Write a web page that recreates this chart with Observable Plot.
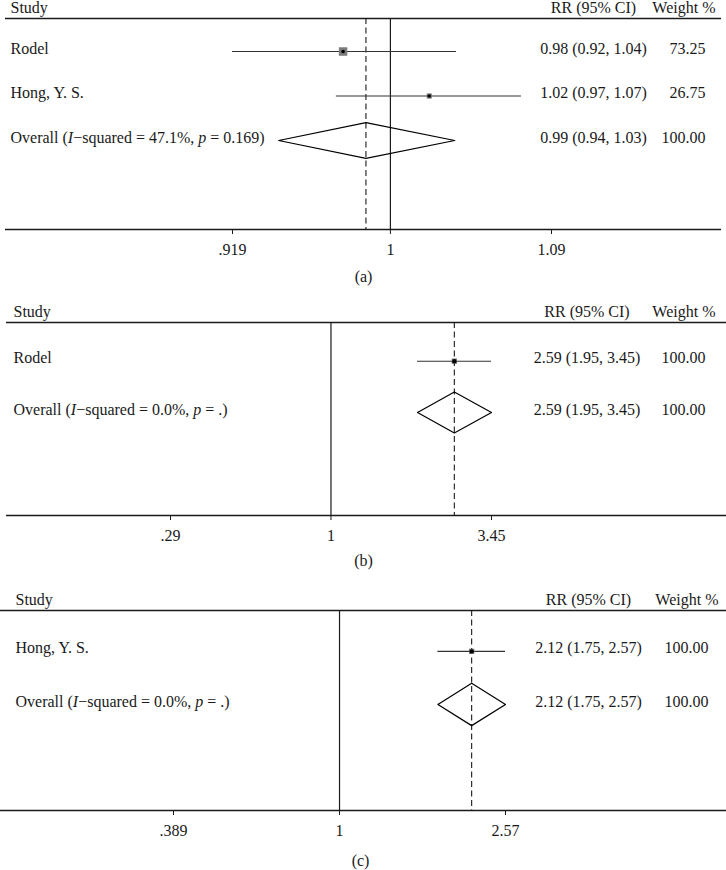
<!DOCTYPE html>
<html>
<head>
<meta charset="utf-8">
<script src="https://cdn.jsdelivr.net/npm/d3@7"></script>
<script src="https://cdn.jsdelivr.net/npm/@observablehq/plot@0.6"></script>
<style>
  html, body { margin: 0; padding: 0; background: #fff; }
  #chart svg { display: block; }
</style>
</head>
<body>
<div id="chart"></div>
<script>
// ---------- Panel (a) ----------
const aStudies = ["Rodel", "Hong, Y. S."];
const aEst = [0.975, 1.021];
const aLo = [0.919, 0.9715];
const aHi = [1.036, 1.0726];
const aRR = ["0.98 (0.92, 1.04)", "1.02 (0.97, 1.07)"];
const aWeight = [73.25, 26.75];
const aOverallLabel = "Overall (I−squared = 47.1%, p = 0.169)";
const aOverall = [0.987, 0.942, 1.035]; // est, lo, hi
const aOverallRR = "0.99 (0.94, 1.03)";
const aOverallWeight = 100;
const aTicks = [0.919, 1, 1.09];
const aTickLabels = [".919", "1", "1.09"];

// ---------- Panel (b) ----------
const bStudies = ["Rodel"];
const bEst = [2.59];
const bLo = [1.95];
const bHi = [3.45];
const bRR = ["2.59 (1.95, 3.45)"];
const bWeight = [100];
const bOverallLabel = "Overall (I−squared = 0.0%, p = .)";
const bOverall = [2.59, 1.95, 3.45];
const bOverallRR = "2.59 (1.95, 3.45)";
const bOverallWeight = 100;
const bTicks = [0.29, 1, 3.45];
const bTickLabels = [".29", "1", "3.45"];

// ---------- Panel (c) ----------
const cStudies = ["Hong, Y. S."];
const cEst = [2.12];
const cLo = [1.75];
const cHi = [2.57];
const cRR = ["2.12 (1.75, 2.57)"];
const cWeight = [100];
const cOverallLabel = "Overall (I−squared = 0.0%, p = .)";
const cOverall = [2.12, 1.75, 2.57];
const cOverallRR = "2.12 (1.75, 2.57)";
const cOverallWeight = 100;
const cTicks = [0.389, 1, 2.57];
const cTickLabels = [".389", "1", "2.57"];

const panels = [
  {caption: "(a)", studies: aStudies, est: aEst, lo: aLo, hi: aHi, rr: aRR, weight: aWeight,
   oLabel: aOverallLabel, overall: aOverall, oRR: aOverallRR, oWeight: aOverallWeight,
   ticks: aTicks, tickLabels: aTickLabels,
   layout: {height: 290, mt: 18, mb: 61, ml: 5, mr: 5, range: [232, 551], yTop: -0.742, yBot: 4,
            lx: 5, rrX: -128, wX: -16, whX: -6, capDy: 52, capDx: 0, rMax: 5.6, dotR: 1.8}},
  {caption: "(b)", studies: bStudies, est: bEst, lo: bLo, hi: bHi, rr: bRR, weight: bWeight,
   oLabel: bOverallLabel, overall: bOverall, oRR: bOverallRR, oWeight: bOverallWeight,
   ticks: bTicks, tickLabels: bTickLabels,
   layout: {height: 285, mt: 32, mb: 60, ml: 6, mr: 0, range: [170, 491], yTop: -0.754, yBot: 3.008,
            lx: 7, rrX: -139.5, wX: -21, whX: -11, capDy: 50, capDx: -3, rMax: 3.0, dotR: 2.2}},
  {caption: "(c)", studies: cStudies, est: cEst, lo: cLo, hi: cHi, rr: cRR, weight: cWeight,
   oLabel: cOverallLabel, overall: cOverall, oRR: cOverallRR, oWeight: cOverallWeight,
   ticks: cTicks, tickLabels: cTickLabels,
   layout: {height: 295, mt: 35, mb: 60, ml: 0, mr: 0, range: [173, 505], yTop: -0.77, yBot: 3.0,
            lx: 15, rrX: -138, wX: -18, whX: -8, capDy: 55, capDx: -3, rMax: 3.0, dotR: 2.2}}
];

function italicize(svg) {
  svg.querySelectorAll("text").forEach(t => {
    const s = t.textContent;
    const m = s.match(/^(.*\()(I)(−squared = .*, )(p)( = .*)$/);
    if (!m) return;
    while (t.firstChild) t.removeChild(t.firstChild);
    [m[1], m[2], m[3], m[4], m[5]].forEach((part, i) => {
      const ts = document.createElementNS("http://www.w3.org/2000/svg", "tspan");
      ts.textContent = part;
      if (i === 1 || i === 3) ts.setAttribute("font-style", "italic");
      t.appendChild(ts);
    });
  });
}

const ink = "#1a1a1a";
const container = document.getElementById("chart");

panels.forEach(p => {
  const L = p.layout;
  const rows = p.studies.map((s, i) => ({
    study: s, est: p.est[i], lo: p.lo[i], hi: p.hi[i], rr: p.rr[i], w: p.weight[i], row: i
  }));
  const oRow = rows.length;
  const [oEst, oLo, oHi] = p.overall;
  const diamond = [
    {x: oLo, y: oRow}, {x: oEst, y: oRow - 0.4}, {x: oHi, y: oRow},
    {x: oEst, y: oRow + 0.4}, {x: oLo, y: oRow}
  ];
  const textRows = [
    ...rows.map(r => ({label: r.study, rr: r.rr, w: r.w.toFixed(2), row: r.row})),
    {label: p.oLabel, rr: p.oRR, w: p.oWeight.toFixed(2), row: oRow}
  ];

  const chart = Plot.plot({
    width: 726,
    height: L.height,
    marginTop: L.mt,
    marginBottom: L.mb,
    marginLeft: L.ml,
    marginRight: L.mr,
    style: {fontFamily: "'Liberation Serif', 'Times New Roman', serif", fontSize: "16px", color: ink, background: "#fff"},
    x: {type: "log", domain: [p.ticks[0], p.ticks[2]], range: L.range,
        ticks: p.ticks, tickFormat: d => p.tickLabels[p.ticks.indexOf(d)],
        tickSize: 5, tickPadding: 9, label: null},
    y: {domain: [L.yBot, L.yTop], axis: null},
    r: {type: "sqrt", domain: [0, 100], range: [0, L.rMax]},
    marks: [
      // header and bottom lines
      Plot.ruleY([L.yTop, L.yBot], {stroke: ink, strokeWidth: 1.4}),
      // null line at RR = 1
      Plot.ruleX([1], {y1: L.yTop, y2: L.yBot, stroke: ink, strokeWidth: 1.2}),
      // dashed line at overall estimate
      Plot.ruleX([oEst], {y1: L.yTop, y2: L.yBot, stroke: ink, strokeWidth: 1.1, strokeDasharray: "6,3.5"}),
      // CI lines
      Plot.ruleY(rows, {y: "row", x1: "lo", x2: "hi", stroke: "#333", strokeWidth: 1.1}),
      // weight boxes
      Plot.dot(rows, {x: "est", y: "row", r: "w", symbol: "square", fill: "#7a7a7a", stroke: "none"}),
      // point estimates
      Plot.dot(rows, {x: "est", y: "row", r: L.dotR, fill: "#000", stroke: "none"}),
      // diamond
      Plot.line(diamond, {x: "x", y: "y", stroke: "#000", strokeWidth: 1.2, fill: "none"}),
      // header texts
      Plot.text(["Study"], {y: L.yTop, frameAnchor: "left", dx: L.lx, dy: -11, textAnchor: "start"}),
      Plot.text(["RR (95% CI)"], {y: L.yTop, frameAnchor: "right", dx: L.rrX, dy: -11, textAnchor: "middle"}),
      Plot.text(["Weight %"], {y: L.yTop, frameAnchor: "right", dx: L.whX, dy: -11, textAnchor: "end"}),
      // row texts
      Plot.text(textRows, {y: "row", text: "label", frameAnchor: "left", dx: L.lx, dy: -3, textAnchor: "start"}),
      Plot.text(textRows, {y: "row", text: "rr", frameAnchor: "right", dx: L.rrX, dy: -3, textAnchor: "middle"}),
      Plot.text(textRows, {y: "row", text: "w", frameAnchor: "right", dx: L.wX, dy: -3, textAnchor: "end"}),
      // panel caption
      Plot.text([p.caption], {frameAnchor: "bottom", dy: L.capDy, dx: L.capDx, fontSize: 16, textAnchor: "middle"})
    ]
  });
  italicize(chart);
  container.appendChild(chart);
});
</script>
</body>
</html>
